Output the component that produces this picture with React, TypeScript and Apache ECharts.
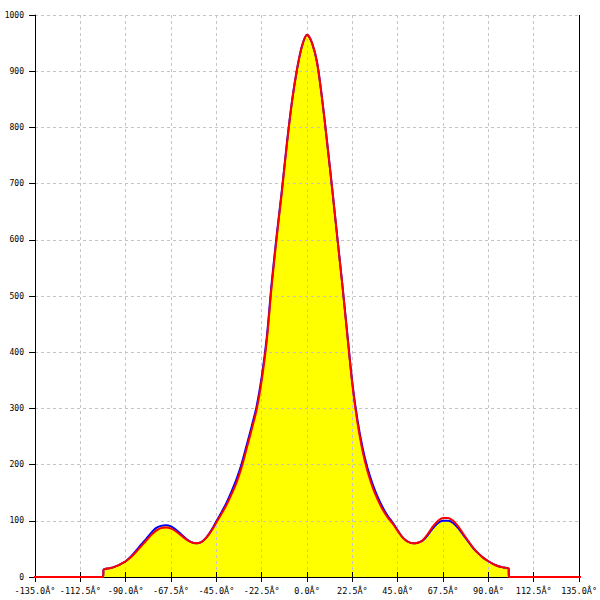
import React, { useEffect, useRef } from "react";
import * as echarts from "echarts";

const angles = [
  -170, -101.2, -101, -97.5, -95, -92.5, -90, -87.5, -85, -82.5, -80, -77.5, -75, -72.5, -70, -67.5,
  -65, -62.5, -60, -57.5, -55, -52.5, -50, -47.5, -45, -42.5, -40, -37.5, -35, -32.5, -30, -27.5,
  -25, -22.5, -20, -17.5, -15, -12.5, -10, -7.5, -5, -2.5, 0, 2.5, 5, 7.5, 10, 12.5, 15, 17.5, 20,
  22.5, 25, 27.5, 30, 32.5, 35, 37.5, 40, 42.5, 45, 47.5, 50, 52.5, 55, 57.5, 60, 62.5, 65, 67.5,
  70, 72.5, 75, 77.5, 80, 82.5, 85, 87.5, 90, 92.5, 95, 97.5, 100, 100.2, 170,
];

const redValues = [
  0, 0, 13, 16, 19, 23, 28, 35, 44, 54, 64, 74, 82, 87, 88, 86,
  81, 74, 67, 62, 60, 62, 70, 82, 97, 112, 128, 147, 168, 195, 228, 262,
  298, 350, 420, 520, 606, 685, 770, 845, 903, 945, 965, 950, 915, 850, 772, 690, 605, 520, 430,
  342, 275, 225, 188, 160, 138, 120, 106, 95, 82, 70, 63, 60, 61, 66, 77, 90, 100, 105,
  105, 100, 90, 77, 64, 52, 42, 34, 28, 23, 19, 17, 15, 0, 0,
];

const blueValues = [
  0, 0, 13, 16, 19, 23, 28, 36, 46, 57, 67, 78, 87, 91, 92, 90,
  84, 76, 68, 62, 60, 62, 70, 83, 99, 115, 132, 152, 174, 201, 234, 268,
  304, 356, 426, 525, 610, 688, 772, 846, 903, 945, 965, 950, 915, 850, 772, 690, 605, 521, 432,
  345, 280, 231, 194, 166, 143, 124, 109, 97, 83, 70, 63, 60, 61, 65, 75, 87, 96, 100,
  100, 96, 87, 75, 63, 51, 42, 34, 28, 23, 19, 17, 15, 0, 0,
];

const xTickLabels = [
  "-135.0Â°", "-112.5Â°", "-90.0Â°", "-67.5Â°", "-45.0Â°", "-22.5Â°", "0.0Â°",
  "22.5Â°", "45.0Â°", "67.5Â°", "90.0Â°", "112.5Â°", "135.0Â°",
];
const yTickLabels = ["0", "100", "200", "300", "400", "500", "600", "700", "800", "900", "1000"];
const xMin = -135;
const xMax = 135;

const FONT = "DejaVu Sans Mono";

export default function App() {
  const ref = useRef<HTMLDivElement>(null);
  useEffect(() => {
    document.body.style.margin = "0";
    document.body.style.overflow = "hidden";
    const chart = echarts.init(ref.current!, null, { renderer: "svg", width: 600, height: 600 });
    const gridDash = { color: "#c4c4c4", width: 1, type: [3, 3] as number[] };
    const tickStyle = { color: "#000", width: 1 };
    const xBase = { type: "value" as const, min: xMin, max: xMax, interval: 22.5, gridIndex: 0 };
    const yBase = { type: "value" as const, min: 0, max: 1000, interval: 100, gridIndex: 0 };
    const blueData = angles.map((a, i) => [a, blueValues[i]]);
    const redData = angles.map((a, i) => [a, redValues[i]]);
    const plotW = 550;
    const plotH = 562;
    chart.setOption({
      animation: false,
      backgroundColor: "#fff",
      grid: { left: 35, right: 15, top: 15, bottom: 23, containLabel: false },
      xAxis: [
        {
          ...xBase,
          position: "bottom",
          z: 1,
          axisLine: { show: true, onZero: false, lineStyle: { color: "#000", width: 1 } },
          axisTick: { show: true, length: 5, lineStyle: tickStyle },
          axisLabel: {
            show: true,
            margin: 9,
            color: "#000",
            fontFamily: FONT,
            fontSize: 8.5,
            showMaxLabel: true,
            showMinLabel: true,
            formatter: (v: number) => xTickLabels[Math.round((v - xMin) / 22.5)] ?? "",
          },
          splitLine: { show: true, lineStyle: gridDash },
        },
        {
          ...xBase,
          position: "top",
          offset: -plotH,
          z: 1,
          axisLine: { show: false, onZero: false },
          axisTick: { show: true, inside: false, length: 5, lineStyle: tickStyle },
          axisLabel: { show: false },
          splitLine: { show: false },
        },
      ],
      yAxis: [
        {
          ...yBase,
          position: "left",
          z: 1,
          axisLine: { show: true, onZero: false, lineStyle: { color: "#000", width: 1 } },
          axisTick: { show: true, length: 5, lineStyle: tickStyle },
          axisLabel: {
            show: true,
            margin: 11,
            color: "#000",
            fontFamily: FONT,
            fontSize: 8,
            formatter: (v: number) => yTickLabels[Math.round(v / 100)] ?? "",
          },
          splitLine: { show: true, lineStyle: gridDash },
        },
        {
          ...yBase,
          position: "right",
          offset: -plotW,
          z: 1,
          axisLine: { show: false, onZero: false },
          axisTick: { show: true, inside: false, length: 5, lineStyle: tickStyle },
          axisLabel: { show: false },
          splitLine: { show: false },
        },
      ],
      series: [
        {
          type: "line",
          name: "fill",
          data: blueData,
          xAxisIndex: 0,
          yAxisIndex: 0,
          z: 0,
          smooth: 0.3,
          showSymbol: false,
          silent: true,
          clip: false,
          lineStyle: { width: 0, opacity: 0 },
          areaStyle: { color: "#ffff00", opacity: 1 },
        },
        {
          type: "line",
          name: "blue",
          data: blueData,
          xAxisIndex: 0,
          yAxisIndex: 0,
          z: 2,
          smooth: 0.3,
          showSymbol: false,
          clip: false,
          lineStyle: { color: "#0000ff", width: 2 },
        },
        {
          type: "line",
          name: "red",
          data: redData,
          xAxisIndex: 0,
          yAxisIndex: 0,
          z: 3,
          smooth: 0.3,
          showSymbol: false,
          clip: false,
          lineStyle: { color: "#ff0000", width: 2 },
          markLine: {
            silent: true,
            symbol: ["none", "none"],
            label: { show: false },
            lineStyle: { color: "#000", width: 1, type: "solid" },
            data: [{ xAxis: xMax }],
          },
        },
      ],
    });
    return () => chart.dispose();
  }, []);
  return (
    <div
      ref={ref}
      style={{ position: "absolute", left: 0, top: 0, width: 600, height: 600, overflow: "hidden" }}
    />
  );
}
